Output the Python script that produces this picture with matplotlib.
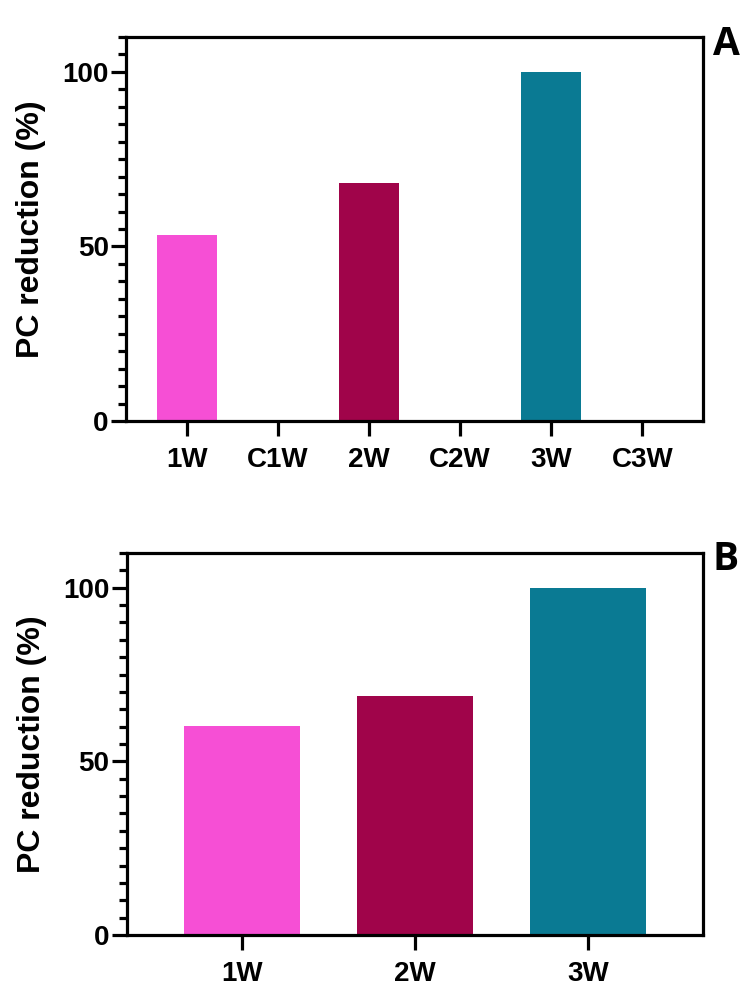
import matplotlib
matplotlib.use("Agg")
import matplotlib.pyplot as plt
from matplotlib.ticker import MultipleLocator

# panel A
cats_a = ["1W", "C1W", "2W", "C2W", "3W", "C3W"]
vals_a = [53.2, 0, 68.3, 0, 100, 0]
cols_a = ["#F64FD5", "#A0044A", "#A0044A", "#0A7A93", "#0A7A93", "#0A7A93"]

# panel B
cats_b = ["1W", "2W", "3W"]
vals_b = [60.2, 68.9, 100]
cols_b = ["#F64FD5", "#A0044A", "#0A7A93"]

plt.rcParams["font.family"] = ["Liberation Sans", "DejaVu Sans"]
plt.rcParams["font.weight"] = "bold"

fig = plt.figure(figsize=(7.43, 9.86), dpi=100)
ax_a = fig.add_axes([0.1696, 0.573, 0.7766, 0.3895])
ax_b = fig.add_axes([0.1709, 0.0517, 0.7753, 0.3874])


def style(ax, n):
    ax.set_ylim(0, 110)
    ax.set_xlim(-0.665, n - 1 + 0.665)
    ax.yaxis.set_major_locator(MultipleLocator(50))
    ax.yaxis.set_minor_locator(MultipleLocator(5))
    for s in ax.spines.values():
        s.set_linewidth(2.3)
    ax.tick_params(axis="y", which="major", length=10.5, width=2.3, labelsize=20, pad=2)
    ax.tick_params(axis="y", which="minor", length=6, width=2.3)
    ax.tick_params(axis="x", which="major", length=11, width=2.3, labelsize=20, pad=8)
    ax.set_ylabel("PC reduction (%)", fontsize=23, fontweight="bold", labelpad=12)
    for lab in ax.get_xticklabels() + ax.get_yticklabels():
        lab.set_fontweight("bold")


ax_a.bar(range(len(cats_a)), vals_a, width=0.66, color=cols_a)
ax_a.set_xticks(range(len(cats_a)))
ax_a.set_xticklabels(cats_a)
style(ax_a, len(cats_a))

ax_b.bar(range(len(cats_b)), vals_b, width=0.665, color=cols_b)
ax_b.set_xticks(range(len(cats_b)))
ax_b.set_xticklabels(cats_b)
style(ax_b, len(cats_b))

fig.text(0.9596, 0.9545, "A", fontsize=28, fontweight="bold", family="Open Sans",
         ha="left", va="center")
fig.text(0.9596, 0.4325, "B", fontsize=28, fontweight="bold", family="Open Sans",
         ha="left", va="center")

fig.savefig("out.png", dpi=100)
